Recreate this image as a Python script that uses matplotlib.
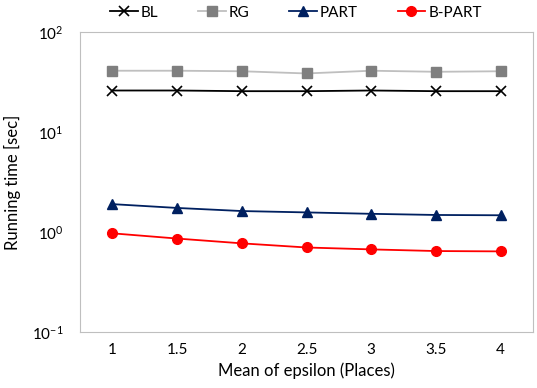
import numpy as np
import matplotlib.pyplot as plt

plt.rcParams['font.family'] = ['Lato', 'DejaVu Sans']
plt.rcParams['axes.unicode_minus'] = False

eps = ['1', '1.5', '2', '2.5', '3', '3.5', '4']
bl = [26, 26, 25.6, 25.6, 26, 25.6, 25.6]
rg = [41, 41, 40.5, 38.5, 41, 40, 40.5]
part = [1.9, 1.74, 1.62, 1.57, 1.52, 1.48, 1.47]
bpart = [0.97, 0.86, 0.77, 0.70, 0.67, 0.645, 0.64]

fig = plt.figure(figsize=(5.37, 3.88), dpi=100)
ax = fig.add_axes([80/537, 1 - 332/388, 453/537, 300/388])

x = np.arange(len(eps))
ax.plot(x, bl, color='black', marker='x', markersize=6.5, mew=1.2, lw=1.3, label='BL')
ax.plot(x, rg, color='#bfbfbf', marker='s', markersize=6.5, mfc='#7f7f7f', mec='#7f7f7f', lw=1.3, label='RG')
ax.plot(x, part, color='#002060', marker='^', markersize=7.5, lw=1.3, label='PART')
ax.plot(x, bpart, color='#ff0000', marker='o', markersize=7, lw=1.3, label='B-PART')

ax.set_yscale('log')
ax.set_ylim(0.1, 100)
ax.set_xlim(-0.5, len(eps) - 0.5)
ax.set_xticks(x)
ax.set_xticklabels(eps)
ax.minorticks_off()
ax.tick_params(length=0, labelsize=11, pad=8)
ax.tick_params(axis='y', pad=12)
for s in ax.spines.values():
    s.set_color('#bfbfbf')

ax.set_xlabel('Mean of epsilon (Places)', fontsize=12, labelpad=4)
ax.set_ylabel('Running time [sec]', fontsize=12, labelpad=8)

ax.legend(loc='lower center', bbox_to_anchor=(0.477, 1.0), ncol=4, frameon=False,
          fontsize=11, handlelength=1.8, columnspacing=2.6, handletextpad=0.2, borderaxespad=0.4)

fig.savefig('out.png', dpi=100)
